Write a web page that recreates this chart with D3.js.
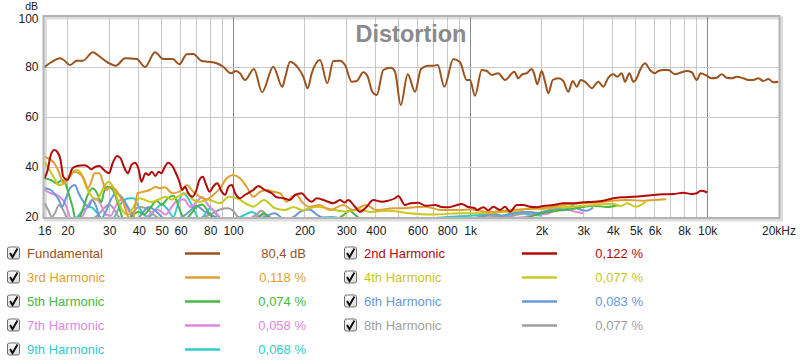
<!DOCTYPE html>
<html><head><meta charset="utf-8">
<script src="https://cdn.jsdelivr.net/npm/d3@7"></script>
<style>body{margin:0;background:#fff;}svg{display:block;font-family:"Liberation Sans",Arial,sans-serif;}</style>
</head><body><svg id="c" width="800" height="364"></svg>
<script>
// ---- data ----
const xTickValues = [16,20,30,40,50,60,80,100,200,300,400,600,800,1000,2000,3000,4000,5000,6000,8000,10000,20000];
const xTickLabels = ["16","20","30","40","50","60","80","100","200","300","400","600","800","1k","2k","3k","4k","5k","6k","8k","10k","20kHz"];
const yTickValues = [20,40,60,80,100];
const legendNames = ["Fundamental","2nd Harmonic","3rd Harmonic","4th Harmonic","5th Harmonic","6th Harmonic","7th Harmonic","8th Harmonic","9th Harmonic"];
const legendValues = ["80,4 dB","0,122 %","0,118 %","0,077 %","0,074 %","0,083 %","0,058 %","0,077 %","0,068 %"];
const seriesColors = ["#9c521e","#b20a0a","#e0a030","#c8c820","#44b844","#6a98d8","#e088e0","#a0a0a0","#30cccc"];

const fundFreq = [16,17.2,18.6,19.3,20.5,21.9,23.2,25.6,27.4,29.7,32,35,39.2,42.5,46.8,50.7,55.6,59.3,63.7,67.9,73.7,78.6,85.2,90.9,97.7,102.8,106.9,112.2,122.5,132.4,147.7,161.2,165.5,173.8,188.4,197.8,206.4,214.6,232.6,249.7,264.7,282.4,296.5,316.5,332.3,354.2,369.7,386.6,403.5,430.1,463.6,482,509.5,545.3,585.4,620.5,662.2,699.2,729.8,778,849.2,906.5,967.1,998.8,1048,1119,1175,1233,1315,1403,1536,1597,1660,1733,1818,1860,1920,2004,2070,2137,2231,2355,2472,2595,2709,2817,2928,3104,3258,3474,3647,3828,4019,4178,4360,4503,4695,4881,5045,5210,5469,5741,6026,6223,6535,6859,7318,7811,8200,8609,9036,9395,9959,10450,10975,11521,12095,12698,13330,14210,14920,15660,16440,17260,18120,19020,20000];
const fundDb = [79.9,82.1,83.5,82.8,80.8,82.5,82.5,85.9,84.1,81.7,80.5,83.5,83.2,80,85.9,83.2,83.2,81.1,85.1,85.2,82.4,82.1,81.5,80.1,77.5,78.4,77.5,74.8,79.2,69.9,80.1,72.1,75.5,82.1,79.5,76.1,71.5,77.5,82.8,73.5,82.4,82.5,80.8,74.1,74.4,77.9,76.1,70.1,68.8,78.8,79.7,78.1,64.8,77.1,70.1,79.2,80.5,80.5,80.8,72.1,83.2,81.9,74.8,74.8,68.5,78.8,78.4,76.8,77.5,74.8,78.1,75.5,77.1,77.5,79.2,77.5,73.1,78.4,74.1,69.5,74.8,75.5,74.4,70.1,74.4,72.1,74.8,73.5,71.5,74.1,72.1,75.7,77.1,76.1,77.5,74.1,77.5,74.1,75.5,78.8,81.5,78.8,77.5,78.4,78.8,78.8,77.1,77.9,78.4,77.9,74.8,77.5,76.5,75.5,75.7,77.1,75.7,75.5,76.1,75.5,74.8,74.8,75.5,74.4,75.2,73.9,74.1];

const h2Freq = [16,16.5,17,17.6,18.1,18.7,19.2,20,21,22,23.6,24.4,25.2,26,27.3,28.5,30,31,32.4,33.5,34.6,36,37.2,38.5,40,41,42.7,44,45.4,47,48.5,49.8,51.5,53.2,55.4,57,59,61,62.6,64.7,67.3,70,72,74.4,77,79.6,82.3,85.7,89.5,92.5,95.6,98.8,102,107,112,121.6,127.7,135,145.5,152.7,163,173.8,182.4,194.7,204,214.6,225.3,245,264.7,282.4,295,306,326.7,343,366,390.4,423.6,450,482,497.6,531,560,604,650,711,760,809,860,921,980,1048,1066,1137,1193,1253,1336,1403,1473,1573,1677,1789,1910,2036,2244,2472,2725,3003,3309,3647,4019,4429,4881,5381,5929,6535,7201,7936,8609,9036,9395,9636,10000];
const h2Db = [35.5,38.8,44.8,46.8,46.1,42.8,36.1,34.8,39.5,40.4,40.7,40.1,39.1,39.9,40.4,38.8,37.5,41.5,44.4,43.5,40.1,37.5,40.8,41.7,38.8,34.1,37.5,36.8,38.1,36.4,38.1,37.5,40.1,41.7,40.4,38.1,34.8,30.8,32.1,29.5,28.1,30.8,34.8,36.1,32.8,30.1,32.1,33.5,30.1,28.8,32.1,32.8,29.5,27.5,28.8,30.8,32.4,31,29.5,27.9,27.5,26.8,28.8,29.5,27.5,26.1,27.5,26.5,25.5,26.8,25.8,26.8,24.1,22.1,24.1,26.8,26.1,26.5,27.5,28.4,24.8,25.5,25.7,24.5,24.8,24,23.9,24.5,25.2,24,23.5,22.8,23.9,22.7,24.1,22.8,24.1,22.1,24.8,24.8,24.1,23.9,24.4,24.8,25.5,25.5,25.9,26.1,26.5,27.5,27.9,28.1,28.4,28.8,29.1,29.2,29.7,29.2,29.5,30.5,30.4,29.8];

const h3Freq = [16,16.6,17.6,18.4,19.2,20,21.2,22.4,23.6,24.4,25.2,26,27.3,28.2,29.1,30.5,32,33,34.5,36,37.3,38.3,39.5,41.7,45,47,49,51.5,55.4,61,63.7,67.9,72.5,77,82.5,88,93.9,100,106.9,114,121.6,130,138.6,148,157.8,168.4,176.7,185,195,207.6,232,256,291.7,320,366,400,474,530,600,650,750,900,1000,1200,1400,1700,2000,2500,2900,3500,4000,4600,5400,6000,6700];
const h3Db = [44,43.5,41.5,38.1,33.5,35.5,38.1,37.5,34.8,31.5,34.1,37.5,37.5,34.1,30.8,32.1,30.8,28.8,25.5,20,17,22,29.5,30.1,31,32.1,31.5,31.9,29.5,30.8,32.8,30.1,28.1,27,28.8,31.5,35.5,36.8,35.5,32.1,28.1,30.1,30.8,30.1,29.5,26.1,28.1,28.8,26.1,24.1,24.8,22.8,24.8,22.8,24.8,22.8,23.5,23.5,24,24.1,22.8,22.8,23,22,22.5,23.2,23.5,24.8,25.5,25.8,26.5,26.8,26.5,26.8,27.1];

const h4Freq = [16,16.8,17.6,18.3,19,20.5,21.2,22,23,24,25,26.5,27.8,28.5,30,31.5,33,34.5,36,38,40,42,45,48,52,55,58,63.7,68,72.5,78,88,96,104,115,121.6,135,150,165,180,195,225,260,300,340,380,450,550,700,900,1100,1400,1600,1800,2000,2300,2600,3000,3500,4000,4300,4600,5000,5500];
const h4Db = [42.1,38.8,35.5,32.8,33,36.1,38.1,38.8,36.8,32.1,29,26.8,30,32.1,34.1,30.8,25.5,22,21,24,27.5,27,26,26.8,28.1,27,28,29.5,26.8,26.1,27,25.5,28.1,27.5,25,24.1,26.8,23.5,22.8,24,22.8,24.1,23,22.1,23,22,22.5,21.5,21,21.5,21.5,22,22.5,23.5,23.2,23.8,24,24.5,25,25.3,24.3,25.5,24.1,26.1];

const h5Freq = [16,17,18,19,19.6,20.2,21,21.8,23,24.4,25.5,26.5,27.8,28.5,29.5,31,32.5,34,35,37,40,42,45,47.5,50,53,56,58,60,63,66,70,74,80,86,95,110,125,135,145,160,180,220,260,290,310,330,350,400,500,600,700,800,1000,1400,1700,2000,2300,2600,3000,3300,3800,4200];
const h5Db = [35.5,34.8,33.5,34.8,33.5,29.5,24.1,18,22,29,31.5,30,26,30,32.1,31,26,20,17,20,22,21,24,26.5,25,27.5,28.5,26,22,19,21,24,25,21,18,19,17,19,21.5,19,18,19,17,18,20.5,22.5,20.5,19,18,17,18,19,18,18,18,19.5,21.5,22.5,23,24,24.5,24,24.8];

const h6Freq = [16,17,17.8,18.4,19,19.7,20.5,21.5,22.3,23.6,24.5,25.5,26.5,27.5,29,30.5,32,33.5,35,37,39,41,44,47,50,54,60,65,70,75,80,90,110,135,150,165,180,195,210,225,250,300,350,400,500,700,900,1100,1250,1350,1500,1700,1900,2100,2300,2500,2700,2900,3100,3300];
const h6Db = [31.5,30.8,28.8,26.8,24.1,27.5,31.5,32.8,29.5,25.5,24,26.8,24,19,22,27,29.5,28.5,26,22,19,21,24,22.5,20,18,19.5,22,24.5,22.5,21,19,18,20,21.5,19,20,22.5,23,21,19,18.5,19.5,18,19,18,19,20,21.5,20.5,21.5,22,21.5,22.5,23.5,23,24.4,23,22.5,23.8];

const h7Freq = [16,17,18,18.8,19.5,20,21,23,24.5,26,27.5,29,30.5,32,33.5,35,37,39,42,45,48,52,55,58,62,66,70,74,78,84,90,100,120,135,150,175,200,250,400,700,1000,1400,1700,1900,2100,2300,2600,2800,3000];
const h7Db = [30.8,29.5,28.8,27.5,25.5,22.8,18,20,25,27.5,25.5,21,20.5,24.5,26.8,25,21,18,19,21.5,23,21,24,26.5,27,24,26,28,25,22,19,18,19.5,21,19,18.5,19,18,17,17,18,19.5,20,21,21.2,22.5,22.8,22,21.5];

const h8Freq = [16,16.6,17.2,17.8,18.4,19,19.8,21,24,27,28.5,30,31.5,33,36,38,40,43,46,50,60,70,80,88,95,100,105,115,125,132,140,160,200,250,400,700,1000,1200,1400,1600,1800,2000,2200,2500];
const h8Db = [25.5,22.8,20,22,24.8,23.5,20,17,18,21,23.5,25,23,20,19,22,24,23.5,21,19,18,19,21,23,23.5,22.5,20,19,21,22.5,20,18,18.5,17,17,18,19,20.5,20,21,22,21.5,22.5,23];

const h9Freq = [16,20,22,23.5,25,26.5,28,30,32,34,36.5,38,40,42,44,47,50,53,56,58,61.6,65,69,72,76,80,85,90,100,110,120,130,145,180,220,260,300,400,600,800,1000,1200,1400,1600,1800,2000];
const h9Db = [16,17,20,23,24,22,19,17,21,26,27.5,27.5,24,21,20,23,25,23,20,24,29.5,27,22,19,21,23.5,21,18,19,20.5,22,20,18,18.5,19.5,20,19,18,19,20,20.5,21,20.5,21.5,21,20.5];

// ---- drawing ----
const svg = d3.select("#c");
const L = 44.5, R = 778.5, T = 17, B = 217;
const x = d3.scaleLog().domain([16, 20000]).range([L, R]);
const y = d3.scaleLinear().domain([20, 100]).range([B, T]);

svg.append("defs").append("clipPath").attr("id","clip")
  .append("rect").attr("x", L).attr("y", T).attr("width", R - L).attr("height", B - T);

// shadow
svg.append("rect").attr("x", L - 1 + 2).attr("y", T - 1 + 2).attr("width", R - L + 2).attr("height", B - T + 2)
  .attr("fill", "none").attr("stroke", "#dedede").attr("stroke-width", 3);

// vertical grid
const minorF = [];
[10,100,1000,10000].forEach(d => { for (let k = 2; k <= 9; k++) { const f = d * k; if (f > 16 && f < 20000) minorF.push(f); } });
svg.append("g").selectAll("line").data(minorF).join("line")
  .attr("x1", d => x(d)).attr("x2", d => x(d)).attr("y1", T).attr("y2", B)
  .attr("stroke", "#c8c8c8").attr("stroke-width", 1).attr("shape-rendering","crispEdges");
svg.append("g").selectAll("line").data([100,1000,10000]).join("line")
  .attr("x1", d => x(d)).attr("x2", d => x(d)).attr("y1", T).attr("y2", B)
  .attr("stroke", "#8a8a8a").attr("stroke-width", 1).attr("shape-rendering","crispEdges");
// horizontal grid
svg.append("g").selectAll("line").data([40,60,80]).join("line")
  .attr("x1", L).attr("x2", R).attr("y1", d => y(d)).attr("y2", d => y(d))
  .attr("stroke", "#c8c8c8").attr("stroke-width", 1).attr("shape-rendering","crispEdges");

// frame
svg.append("rect").attr("x", L - 1).attr("y", T - 1).attr("width", R - L + 2).attr("height", B - T + 2)
  .attr("fill", "none").attr("stroke", "#b4b4b4").attr("stroke-width", 2);

// title
svg.append("text").attr("x", 411).attr("y", 42).attr("text-anchor", "middle")
  .attr("font-size", 23.5).attr("font-weight", "bold").attr("fill", "#8a8a8a").text("Distortion");

// axes labels
const xAxis = d3.axisBottom(x).tickValues(xTickValues).tickFormat((d, i) => xTickLabels[i]).tickSize(0).tickPadding(7);
const gx = svg.append("g").attr("transform", `translate(0,${B + 2})`).call(xAxis);
gx.select(".domain").remove();
gx.selectAll("text").attr("font-size", 12).attr("fill", "#222").attr("font-family", "Liberation Sans, Arial, sans-serif");

const yAxis = d3.axisLeft(y).tickValues(yTickValues).tickSize(0).tickPadding(6);
const gy = svg.append("g").attr("transform", `translate(${L},0)`).call(yAxis);
gy.select(".domain").remove();
gy.selectAll("text").attr("font-size", 12).attr("fill", "#222").attr("font-family", "Liberation Sans, Arial, sans-serif")
  .attr("dy", d => d === 100 ? "0.48em" : "0.32em");
svg.append("text").attr("x", 38).attr("y", 9.6).attr("text-anchor", "end").attr("font-size", 10.5).attr("fill", "#222").text("dB");

// series
const series = [
  [fundFreq, fundDb], [h2Freq, h2Db], [h3Freq, h3Db], [h4Freq, h4Db], [h5Freq, h5Db],
  [h6Freq, h6Db], [h7Freq, h7Db], [h8Freq, h8Db], [h9Freq, h9Db]
];
const line = d3.line().x(d => x(d[0])).y(d => y(d[1])).curve(d3.curveMonotoneX);
const gl = svg.append("g").attr("clip-path", "url(#clip)");
[8,7,6,5,4,3,2,1,0].forEach(i => {
  const [fs, vs] = series[i];
  const pts = fs.map((f, k) => [f, vs[k]]);
  gl.append("path").attr("d", line(pts)).attr("fill", "none")
    .attr("stroke", seriesColors[i]).attr("stroke-width", 2).attr("stroke-linejoin", "round");
});

// legend
const defs = svg.select("defs");
const grad = defs.append("linearGradient").attr("id", "cb").attr("x1", 0).attr("y1", 0).attr("x2", 0).attr("y2", 1);
grad.append("stop").attr("offset", "0%").attr("stop-color", "#ffffff");
grad.append("stop").attr("offset", "100%").attr("stop-color", "#d8d8d8");

legendNames.forEach((name, i) => {
  const col = i % 2, row = Math.floor(i / 2);
  const cy = 253.5 + row * 24;
  const bx = col === 0 ? 7.5 : 344.5;
  const tx = col === 0 ? 27 : 364;
  const lx1 = col === 0 ? 185 : 522, lx2 = col === 0 ? 220 : 557;
  const vx = col === 0 ? 306 : 643;
  const g = svg.append("g");
  g.append("rect").attr("x", bx).attr("y", cy - 6.5).attr("width", 12).attr("height", 12).attr("rx", 2)
    .attr("fill", "url(#cb)").attr("stroke", "#6e6e6e").attr("stroke-width", 1);
  g.append("path").attr("d", `M${bx+2.5},${cy-0.5} L${bx+5},${cy+3.5} L${bx+10},${cy-5}`)
    .attr("fill", "none").attr("stroke", "#111").attr("stroke-width", 2);
  g.append("text").attr("x", tx).attr("y", cy).attr("dy", "0.35em").attr("font-size", 13)
    .attr("fill", seriesColors[i]).text(name);
  g.append("line").attr("x1", lx1).attr("x2", lx2).attr("y1", cy).attr("y2", cy)
    .attr("stroke", seriesColors[i]).attr("stroke-width", 2.5);
  g.append("text").attr("x", vx).attr("y", cy).attr("dy", "0.35em").attr("text-anchor", "end").attr("font-size", 13)
    .attr("fill", seriesColors[i]).text(legendValues[i]);
});
</script></body></html>
